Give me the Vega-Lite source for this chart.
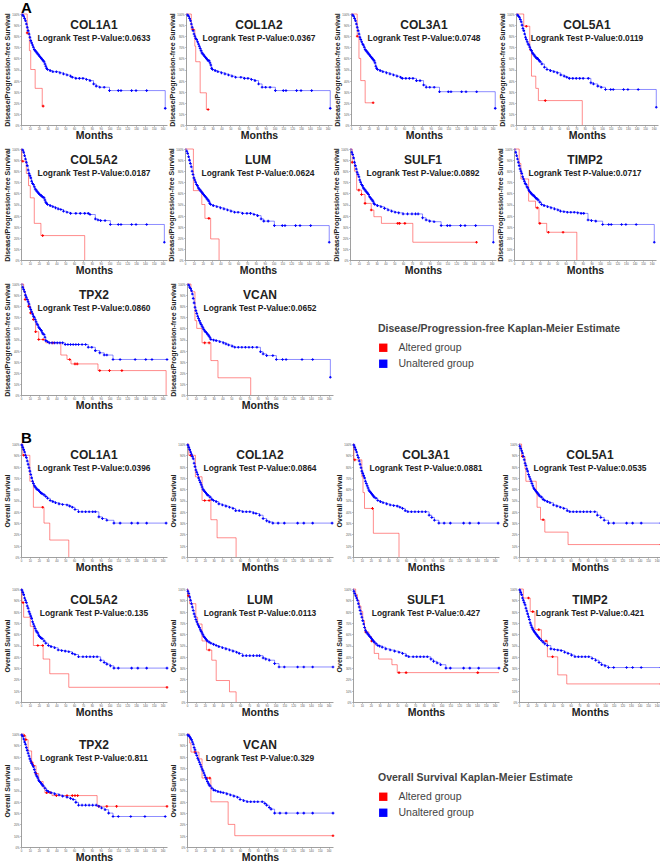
{
"$schema":"https://vega.github.io/schema/vega-lite/v6.json",
"padding":{"left":3,"top":1,"right":0,"bottom":0},
"config":{
"font":"Liberation Sans",
"view":{"stroke":null},
"axis":{"grid":false,"domainColor":"#888","tickColor":"#888","labelColor":"#555","labelFontSize":2.8,"tickSize":1.5,"labelPadding":0.5,"titleFontWeight":"bold","titleColor":"#222","domainWidth":0.8,"tickWidth":0.5,"labelFlush":false},
"axisX":{"titleFontSize":10.5,"titlePadding":0.5},
"axisY":{"titleFontSize":7,"titlePadding":1},
"title":{"fontSize":12,"fontWeight":"bold","subtitleFontSize":8.4,"subtitleFontWeight":"bold","color":"#222","subtitleColor":"#222","anchor":"middle","frame":"group","offset":-31,"subtitlePadding":2,"font":"Liberation Sans","subtitleFont":"Liberation Sans"}
},
"datasets":{
"a1":[
{"t":0,"s":1,"g":"A","c":0},{"t":7,"s":0.83,"g":"A","c":1},{"t":9.5,"s":0.67,"g":"A","c":0},{"t":11,"s":0.5,"g":"A","c":0},{"t":16,"s":0.33,"g":"A","c":0},{"t":24,"s":0.17,"g":"A","c":0},{"t":25,"s":0.17,"g":"A","c":1},
{"t":0,"s":1,"g":"U","c":0},{"t":2,"s":0.99,"g":"U","c":1},{"t":3,"s":0.98,"g":"U","c":1},{"t":4,"s":0.96,"g":"U","c":1},{"t":5,"s":0.94,"g":"U","c":1},{"t":6,"s":0.91,"g":"U","c":1},{"t":7,"s":0.88,"g":"U","c":1},{"t":8,"s":0.85,"g":"U","c":1},{"t":9,"s":0.82,"g":"U","c":1},{"t":10,"s":0.79,"g":"U","c":1},{"t":11,"s":0.76,"g":"U","c":1},{"t":12,"s":0.74,"g":"U","c":1},{"t":13,"s":0.72,"g":"U","c":1},{"t":14,"s":0.70,"g":"U","c":1},{"t":15,"s":0.68,"g":"U","c":1},{"t":16,"s":0.67,"g":"U","c":1},{"t":17,"s":0.66,"g":"U","c":1},{"t":18,"s":0.65,"g":"U","c":1},{"t":19,"s":0.64,"g":"U","c":1},{"t":20,"s":0.63,"g":"U","c":1},{"t":21,"s":0.62,"g":"U","c":1},{"t":22,"s":0.61,"g":"U","c":1},{"t":23,"s":0.60,"g":"U","c":1},{"t":24,"s":0.59,"g":"U","c":1},{"t":25,"s":0.58,"g":"U","c":1},{"t":26,"s":0.57,"g":"U","c":1},{"t":27,"s":0.55,"g":"U","c":1},{"t":28,"s":0.53,"g":"U","c":1},{"t":29,"s":0.51,"g":"U","c":1},{"t":30,"s":0.50,"g":"U","c":1},{"t":33,"s":0.49,"g":"U","c":1},{"t":36,"s":0.48,"g":"U","c":1},{"t":40,"s":0.48,"g":"U","c":1},{"t":44,"s":0.47,"g":"U","c":1},{"t":48,"s":0.46,"g":"U","c":1},{"t":52,"s":0.45,"g":"U","c":1},{"t":56,"s":0.44,"g":"U","c":1},{"t":58,"s":0.43,"g":"U","c":1},{"t":62,"s":0.42,"g":"U","c":1},{"t":66,"s":0.42,"g":"U","c":1},{"t":70,"s":0.42,"g":"U","c":1},{"t":74,"s":0.41,"g":"U","c":1},{"t":78,"s":0.40,"g":"U","c":1},{"t":82,"s":0.37,"g":"U","c":1},{"t":85,"s":0.35,"g":"U","c":1},{"t":89,"s":0.34,"g":"U","c":1},{"t":94,"s":0.34,"g":"U","c":1},{"t":100,"s":0.31,"g":"U","c":1},{"t":110,"s":0.31,"g":"U","c":1},{"t":113,"s":0.31,"g":"U","c":1},{"t":125,"s":0.31,"g":"U","c":1},{"t":130,"s":0.31,"g":"U","c":1},{"t":142,"s":0.31,"g":"U","c":1},{"t":163,"s":0.15,"g":"U","c":1}
],
"a2":[
{"t":0,"s":1,"g":"A","c":0},{"t":6,"s":0.86,"g":"A","c":0},{"t":8,"s":0.86,"g":"A","c":1},{"t":10,"s":0.71,"g":"A","c":0},{"t":11,"s":0.57,"g":"A","c":0},{"t":16,"s":0.29,"g":"A","c":0},{"t":23,"s":0.14,"g":"A","c":0},{"t":25,"s":0.14,"g":"A","c":1},
{"t":0,"s":1,"g":"U","c":0},{"t":2,"s":0.99,"g":"U","c":1},{"t":3,"s":0.98,"g":"U","c":1},{"t":4,"s":0.96,"g":"U","c":1},{"t":5,"s":0.94,"g":"U","c":1},{"t":6,"s":0.91,"g":"U","c":1},{"t":7,"s":0.88,"g":"U","c":1},{"t":8,"s":0.85,"g":"U","c":1},{"t":9,"s":0.82,"g":"U","c":1},{"t":10,"s":0.80,"g":"U","c":1},{"t":11,"s":0.78,"g":"U","c":1},{"t":12,"s":0.77,"g":"U","c":1},{"t":13,"s":0.75,"g":"U","c":1},{"t":14,"s":0.73,"g":"U","c":1},{"t":15,"s":0.71,"g":"U","c":1},{"t":16,"s":0.69,"g":"U","c":1},{"t":17,"s":0.67,"g":"U","c":1},{"t":18,"s":0.65,"g":"U","c":1},{"t":19,"s":0.64,"g":"U","c":1},{"t":20,"s":0.63,"g":"U","c":1},{"t":21,"s":0.62,"g":"U","c":1},{"t":22,"s":0.61,"g":"U","c":1},{"t":23,"s":0.60,"g":"U","c":1},{"t":24,"s":0.59,"g":"U","c":1},{"t":25,"s":0.58,"g":"U","c":1},{"t":26,"s":0.58,"g":"U","c":1},{"t":27,"s":0.56,"g":"U","c":1},{"t":28,"s":0.54,"g":"U","c":1},{"t":29,"s":0.51,"g":"U","c":1},{"t":30,"s":0.50,"g":"U","c":1},{"t":33,"s":0.49,"g":"U","c":1},{"t":36,"s":0.48,"g":"U","c":1},{"t":40,"s":0.47,"g":"U","c":1},{"t":44,"s":0.46,"g":"U","c":1},{"t":48,"s":0.45,"g":"U","c":1},{"t":52,"s":0.44,"g":"U","c":1},{"t":56,"s":0.43,"g":"U","c":1},{"t":62,"s":0.43,"g":"U","c":1},{"t":66,"s":0.42,"g":"U","c":1},{"t":70,"s":0.42,"g":"U","c":1},{"t":74,"s":0.41,"g":"U","c":1},{"t":78,"s":0.40,"g":"U","c":1},{"t":82,"s":0.37,"g":"U","c":1},{"t":86,"s":0.34,"g":"U","c":1},{"t":90,"s":0.34,"g":"U","c":1},{"t":95,"s":0.34,"g":"U","c":1},{"t":101,"s":0.31,"g":"U","c":1},{"t":110,"s":0.31,"g":"U","c":1},{"t":113,"s":0.31,"g":"U","c":1},{"t":125,"s":0.31,"g":"U","c":1},{"t":130,"s":0.31,"g":"U","c":1},{"t":142,"s":0.31,"g":"U","c":1},{"t":163,"s":0.15,"g":"U","c":1}
],
"a3":[
{"t":0,"s":1,"g":"A","c":0},{"t":7,"s":0.8,"g":"A","c":1},{"t":9,"s":0.6,"g":"A","c":0},{"t":11,"s":0.4,"g":"A","c":0},{"t":16,"s":0.2,"g":"A","c":0},{"t":25,"s":0.2,"g":"A","c":1},
{"t":0,"s":1,"g":"U","c":0},{"t":2,"s":0.99,"g":"U","c":1},{"t":3,"s":0.98,"g":"U","c":1},{"t":4,"s":0.96,"g":"U","c":1},{"t":5,"s":0.94,"g":"U","c":1},{"t":6,"s":0.91,"g":"U","c":1},{"t":7,"s":0.88,"g":"U","c":1},{"t":8,"s":0.85,"g":"U","c":1},{"t":9,"s":0.82,"g":"U","c":1},{"t":10,"s":0.79,"g":"U","c":1},{"t":11,"s":0.77,"g":"U","c":1},{"t":12,"s":0.75,"g":"U","c":1},{"t":13,"s":0.73,"g":"U","c":1},{"t":14,"s":0.72,"g":"U","c":1},{"t":15,"s":0.70,"g":"U","c":1},{"t":16,"s":0.68,"g":"U","c":1},{"t":17,"s":0.67,"g":"U","c":1},{"t":18,"s":0.66,"g":"U","c":1},{"t":19,"s":0.65,"g":"U","c":1},{"t":20,"s":0.64,"g":"U","c":1},{"t":21,"s":0.63,"g":"U","c":1},{"t":22,"s":0.62,"g":"U","c":1},{"t":23,"s":0.61,"g":"U","c":1},{"t":24,"s":0.60,"g":"U","c":1},{"t":25,"s":0.59,"g":"U","c":1},{"t":26,"s":0.58,"g":"U","c":1},{"t":27,"s":0.56,"g":"U","c":1},{"t":28,"s":0.53,"g":"U","c":1},{"t":29,"s":0.51,"g":"U","c":1},{"t":30,"s":0.50,"g":"U","c":1},{"t":33,"s":0.49,"g":"U","c":1},{"t":36,"s":0.48,"g":"U","c":1},{"t":40,"s":0.47,"g":"U","c":1},{"t":44,"s":0.46,"g":"U","c":1},{"t":48,"s":0.45,"g":"U","c":1},{"t":52,"s":0.44,"g":"U","c":1},{"t":56,"s":0.43,"g":"U","c":1},{"t":58,"s":0.42,"g":"U","c":1},{"t":62,"s":0.42,"g":"U","c":1},{"t":66,"s":0.42,"g":"U","c":1},{"t":70,"s":0.42,"g":"U","c":1},{"t":74,"s":0.40,"g":"U","c":1},{"t":78,"s":0.40,"g":"U","c":1},{"t":82,"s":0.36,"g":"U","c":1},{"t":85,"s":0.34,"g":"U","c":1},{"t":89,"s":0.34,"g":"U","c":1},{"t":94,"s":0.34,"g":"U","c":1},{"t":100,"s":0.30,"g":"U","c":1},{"t":110,"s":0.30,"g":"U","c":1},{"t":113,"s":0.30,"g":"U","c":1},{"t":125,"s":0.30,"g":"U","c":1},{"t":130,"s":0.30,"g":"U","c":1},{"t":142,"s":0.30,"g":"U","c":1},{"t":163,"s":0.15,"g":"U","c":1}
],
"a4":[
{"t":0,"s":1,"g":"A","c":0},{"t":9,"s":0.89,"g":"A","c":0},{"t":12,"s":0.89,"g":"A","c":1},{"t":16,"s":0.67,"g":"A","c":0},{"t":18,"s":0.44,"g":"A","c":0},{"t":23,"s":0.33,"g":"A","c":0},{"t":26,"s":0.22,"g":"A","c":0},{"t":34,"s":0.22,"g":"A","c":1},{"t":77,"s":0,"g":"A","c":0},
{"t":0,"s":1,"g":"U","c":0},{"t":2,"s":0.99,"g":"U","c":1},{"t":3,"s":0.98,"g":"U","c":1},{"t":4,"s":0.97,"g":"U","c":1},{"t":5,"s":0.95,"g":"U","c":1},{"t":6,"s":0.93,"g":"U","c":1},{"t":7,"s":0.90,"g":"U","c":1},{"t":8,"s":0.87,"g":"U","c":1},{"t":9,"s":0.85,"g":"U","c":1},{"t":10,"s":0.82,"g":"U","c":1},{"t":11,"s":0.79,"g":"U","c":1},{"t":12,"s":0.77,"g":"U","c":1},{"t":13,"s":0.75,"g":"U","c":1},{"t":14,"s":0.73,"g":"U","c":1},{"t":15,"s":0.72,"g":"U","c":1},{"t":16,"s":0.70,"g":"U","c":1},{"t":17,"s":0.68,"g":"U","c":1},{"t":18,"s":0.67,"g":"U","c":1},{"t":19,"s":0.65,"g":"U","c":1},{"t":20,"s":0.64,"g":"U","c":1},{"t":21,"s":0.63,"g":"U","c":1},{"t":22,"s":0.62,"g":"U","c":1},{"t":23,"s":0.61,"g":"U","c":1},{"t":24,"s":0.60,"g":"U","c":1},{"t":25,"s":0.60,"g":"U","c":1},{"t":26,"s":0.59,"g":"U","c":1},{"t":27,"s":0.58,"g":"U","c":1},{"t":28,"s":0.57,"g":"U","c":1},{"t":30,"s":0.55,"g":"U","c":1},{"t":33,"s":0.52,"g":"U","c":1},{"t":36,"s":0.50,"g":"U","c":1},{"t":40,"s":0.49,"g":"U","c":1},{"t":44,"s":0.48,"g":"U","c":1},{"t":48,"s":0.47,"g":"U","c":1},{"t":52,"s":0.45,"g":"U","c":1},{"t":56,"s":0.44,"g":"U","c":1},{"t":59,"s":0.43,"g":"U","c":1},{"t":62,"s":0.42,"g":"U","c":1},{"t":66,"s":0.42,"g":"U","c":1},{"t":70,"s":0.42,"g":"U","c":1},{"t":74,"s":0.42,"g":"U","c":1},{"t":78,"s":0.42,"g":"U","c":1},{"t":84,"s":0.42,"g":"U","c":1},{"t":87,"s":0.38,"g":"U","c":1},{"t":90,"s":0.37,"g":"U","c":1},{"t":95,"s":0.35,"g":"U","c":1},{"t":99,"s":0.34,"g":"U","c":1},{"t":104,"s":0.32,"g":"U","c":1},{"t":110,"s":0.32,"g":"U","c":1},{"t":113,"s":0.32,"g":"U","c":1},{"t":125,"s":0.32,"g":"U","c":1},{"t":130,"s":0.32,"g":"U","c":1},{"t":142,"s":0.32,"g":"U","c":1},{"t":163,"s":0.16,"g":"U","c":1}
],
"a5":[
{"t":0,"s":1,"g":"A","c":0},{"t":1,"s":0.89,"g":"A","c":0},{"t":2,"s":0.89,"g":"A","c":1},{"t":6,"s":0.78,"g":"A","c":0},{"t":8.5,"s":0.67,"g":"A","c":0},{"t":10.5,"s":0.56,"g":"A","c":0},{"t":15,"s":0.33,"g":"A","c":0},{"t":22.5,"s":0.22,"g":"A","c":0},{"t":24.5,"s":0.22,"g":"A","c":1},{"t":72,"s":0,"g":"A","c":0},
{"t":0,"s":1,"g":"U","c":0},{"t":2,"s":0.99,"g":"U","c":1},{"t":3,"s":0.97,"g":"U","c":1},{"t":4,"s":0.94,"g":"U","c":1},{"t":5,"s":0.91,"g":"U","c":1},{"t":6,"s":0.88,"g":"U","c":1},{"t":7,"s":0.85,"g":"U","c":1},{"t":8,"s":0.81,"g":"U","c":1},{"t":9,"s":0.78,"g":"U","c":1},{"t":10,"s":0.76,"g":"U","c":1},{"t":11,"s":0.74,"g":"U","c":1},{"t":12,"s":0.71,"g":"U","c":1},{"t":13,"s":0.69,"g":"U","c":1},{"t":14,"s":0.68,"g":"U","c":1},{"t":15,"s":0.66,"g":"U","c":1},{"t":16,"s":0.64,"g":"U","c":1},{"t":17,"s":0.63,"g":"U","c":1},{"t":18,"s":0.62,"g":"U","c":1},{"t":19,"s":0.61,"g":"U","c":1},{"t":20,"s":0.60,"g":"U","c":1},{"t":21,"s":0.59,"g":"U","c":1},{"t":22,"s":0.585,"g":"U","c":1},{"t":23,"s":0.58,"g":"U","c":1},{"t":24,"s":0.57,"g":"U","c":1},{"t":25,"s":0.565,"g":"U","c":1},{"t":26,"s":0.56,"g":"U","c":1},{"t":27,"s":0.54,"g":"U","c":1},{"t":28,"s":0.52,"g":"U","c":1},{"t":29,"s":0.51,"g":"U","c":1},{"t":30,"s":0.50,"g":"U","c":1},{"t":33,"s":0.49,"g":"U","c":1},{"t":36,"s":0.48,"g":"U","c":1},{"t":39,"s":0.47,"g":"U","c":1},{"t":42,"s":0.46,"g":"U","c":1},{"t":45,"s":0.455,"g":"U","c":1},{"t":48,"s":0.44,"g":"U","c":1},{"t":52,"s":0.43,"g":"U","c":1},{"t":56,"s":0.42,"g":"U","c":1},{"t":62,"s":0.42,"g":"U","c":1},{"t":67,"s":0.42,"g":"U","c":1},{"t":72,"s":0.42,"g":"U","c":1},{"t":76,"s":0.42,"g":"U","c":1},{"t":78,"s":0.41,"g":"U","c":1},{"t":84,"s":0.37,"g":"U","c":1},{"t":87,"s":0.36,"g":"U","c":1},{"t":90,"s":0.355,"g":"U","c":1},{"t":95,"s":0.355,"g":"U","c":1},{"t":101,"s":0.32,"g":"U","c":1},{"t":110,"s":0.32,"g":"U","c":1},{"t":113,"s":0.32,"g":"U","c":1},{"t":125,"s":0.32,"g":"U","c":1},{"t":130,"s":0.32,"g":"U","c":1},{"t":142,"s":0.32,"g":"U","c":1},{"t":162,"s":0.16,"g":"U","c":1}
],
"a6":[
{"t":0,"s":1,"g":"A","c":0},{"t":9.5,"s":0.625,"g":"A","c":0},{"t":19,"s":0.5,"g":"A","c":0},{"t":22.5,"s":0.375,"g":"A","c":0},{"t":27,"s":0.375,"g":"A","c":1},{"t":29,"s":0.19,"g":"A","c":0},{"t":38.5,"s":0,"g":"A","c":0},
{"t":0,"s":1,"g":"U","c":0},{"t":2,"s":0.98,"g":"U","c":1},{"t":3,"s":0.96,"g":"U","c":1},{"t":4,"s":0.93,"g":"U","c":1},{"t":5,"s":0.90,"g":"U","c":1},{"t":6,"s":0.87,"g":"U","c":1},{"t":7,"s":0.84,"g":"U","c":1},{"t":8,"s":0.80,"g":"U","c":1},{"t":9,"s":0.77,"g":"U","c":1},{"t":10,"s":0.74,"g":"U","c":1},{"t":11,"s":0.72,"g":"U","c":1},{"t":12,"s":0.70,"g":"U","c":1},{"t":13,"s":0.68,"g":"U","c":1},{"t":14,"s":0.67,"g":"U","c":1},{"t":15,"s":0.65,"g":"U","c":1},{"t":16,"s":0.64,"g":"U","c":1},{"t":17,"s":0.63,"g":"U","c":1},{"t":18,"s":0.62,"g":"U","c":1},{"t":19,"s":0.61,"g":"U","c":1},{"t":20,"s":0.60,"g":"U","c":1},{"t":21,"s":0.59,"g":"U","c":1},{"t":22,"s":0.58,"g":"U","c":1},{"t":23,"s":0.57,"g":"U","c":1},{"t":24,"s":0.56,"g":"U","c":1},{"t":25,"s":0.55,"g":"U","c":1},{"t":26,"s":0.54,"g":"U","c":1},{"t":27,"s":0.53,"g":"U","c":1},{"t":28,"s":0.51,"g":"U","c":1},{"t":29,"s":0.50,"g":"U","c":1},{"t":32,"s":0.49,"g":"U","c":1},{"t":36,"s":0.48,"g":"U","c":1},{"t":40,"s":0.47,"g":"U","c":1},{"t":44,"s":0.46,"g":"U","c":1},{"t":48,"s":0.45,"g":"U","c":1},{"t":52,"s":0.44,"g":"U","c":1},{"t":56,"s":0.43,"g":"U","c":1},{"t":60,"s":0.43,"g":"U","c":1},{"t":65,"s":0.42,"g":"U","c":1},{"t":70,"s":0.42,"g":"U","c":1},{"t":74,"s":0.42,"g":"U","c":1},{"t":78,"s":0.41,"g":"U","c":1},{"t":82,"s":0.40,"g":"U","c":1},{"t":86,"s":0.37,"g":"U","c":1},{"t":89,"s":0.35,"g":"U","c":1},{"t":94,"s":0.35,"g":"U","c":1},{"t":101,"s":0.31,"g":"U","c":1},{"t":110,"s":0.31,"g":"U","c":1},{"t":113,"s":0.31,"g":"U","c":1},{"t":125,"s":0.31,"g":"U","c":1},{"t":130,"s":0.31,"g":"U","c":1},{"t":142,"s":0.31,"g":"U","c":1},{"t":163,"s":0.16,"g":"U","c":1}
],
"a7":[
{"t":0,"s":1,"g":"A","c":0},{"t":2.5,"s":0.88,"g":"A","c":1},{"t":5,"s":0.80,"g":"A","c":0},{"t":7.5,"s":0.63,"g":"A","c":0},{"t":10,"s":0.63,"g":"A","c":1},{"t":13,"s":0.59,"g":"A","c":1},{"t":17,"s":0.51,"g":"A","c":1},{"t":24,"s":0.45,"g":"A","c":1},{"t":27,"s":0.39,"g":"A","c":0},{"t":35.5,"s":0.33,"g":"A","c":0},{"t":54,"s":0.33,"g":"A","c":1},{"t":56,"s":0.33,"g":"A","c":1},{"t":62,"s":0.33,"g":"A","c":1},{"t":71,"s":0.16,"g":"A","c":0},{"t":143,"s":0.16,"g":"A","c":1},
{"t":0,"s":1,"g":"U","c":0},{"t":2,"s":0.97,"g":"U","c":1},{"t":3,"s":0.95,"g":"U","c":1},{"t":4,"s":0.92,"g":"U","c":1},{"t":5,"s":0.88,"g":"U","c":1},{"t":6,"s":0.85,"g":"U","c":1},{"t":7,"s":0.82,"g":"U","c":1},{"t":8,"s":0.79,"g":"U","c":1},{"t":9,"s":0.77,"g":"U","c":1},{"t":10,"s":0.75,"g":"U","c":1},{"t":11,"s":0.72,"g":"U","c":1},{"t":12,"s":0.70,"g":"U","c":1},{"t":13,"s":0.68,"g":"U","c":1},{"t":14,"s":0.67,"g":"U","c":1},{"t":15,"s":0.65,"g":"U","c":1},{"t":16,"s":0.64,"g":"U","c":1},{"t":17,"s":0.63,"g":"U","c":1},{"t":18,"s":0.62,"g":"U","c":1},{"t":19,"s":0.61,"g":"U","c":1},{"t":20,"s":0.60,"g":"U","c":1},{"t":21,"s":0.59,"g":"U","c":1},{"t":22,"s":0.57,"g":"U","c":1},{"t":23,"s":0.56,"g":"U","c":1},{"t":24,"s":0.55,"g":"U","c":1},{"t":25,"s":0.54,"g":"U","c":1},{"t":26,"s":0.53,"g":"U","c":1},{"t":27,"s":0.51,"g":"U","c":1},{"t":28,"s":0.50,"g":"U","c":1},{"t":31,"s":0.49,"g":"U","c":1},{"t":35,"s":0.48,"g":"U","c":1},{"t":39,"s":0.465,"g":"U","c":1},{"t":43,"s":0.45,"g":"U","c":1},{"t":47,"s":0.44,"g":"U","c":1},{"t":51,"s":0.43,"g":"U","c":1},{"t":55,"s":0.425,"g":"U","c":1},{"t":60,"s":0.415,"g":"U","c":1},{"t":65,"s":0.415,"g":"U","c":1},{"t":70,"s":0.415,"g":"U","c":1},{"t":74,"s":0.415,"g":"U","c":1},{"t":77,"s":0.415,"g":"U","c":1},{"t":82,"s":0.38,"g":"U","c":1},{"t":86,"s":0.36,"g":"U","c":1},{"t":90,"s":0.35,"g":"U","c":1},{"t":95,"s":0.345,"g":"U","c":1},{"t":103,"s":0.31,"g":"U","c":1},{"t":110,"s":0.31,"g":"U","c":1},{"t":113,"s":0.31,"g":"U","c":1},{"t":125,"s":0.31,"g":"U","c":1},{"t":130,"s":0.31,"g":"U","c":1},{"t":142,"s":0.31,"g":"U","c":1},{"t":162,"s":0.16,"g":"U","c":1}
],
"a8":[
{"t":0,"s":1,"g":"A","c":0},{"t":6,"s":0.87,"g":"A","c":0},{"t":8,"s":0.73,"g":"A","c":0},{"t":17,"s":0.53,"g":"A","c":0},{"t":25,"s":0.47,"g":"A","c":0},{"t":27,"s":0.47,"g":"A","c":1},{"t":29,"s":0.33,"g":"A","c":0},{"t":30,"s":0.33,"g":"A","c":1},{"t":38,"s":0.25,"g":"A","c":0},{"t":40,"s":0.25,"g":"A","c":1},{"t":57,"s":0.25,"g":"A","c":1},{"t":73,"s":0,"g":"A","c":0},
{"t":0,"s":1,"g":"U","c":0},{"t":2,"s":0.97,"g":"U","c":1},{"t":3,"s":0.94,"g":"U","c":1},{"t":4,"s":0.91,"g":"U","c":1},{"t":5,"s":0.88,"g":"U","c":1},{"t":6,"s":0.85,"g":"U","c":1},{"t":7,"s":0.82,"g":"U","c":1},{"t":8,"s":0.80,"g":"U","c":1},{"t":9,"s":0.78,"g":"U","c":1},{"t":10,"s":0.75,"g":"U","c":1},{"t":11,"s":0.73,"g":"U","c":1},{"t":12,"s":0.71,"g":"U","c":1},{"t":13,"s":0.69,"g":"U","c":1},{"t":14,"s":0.68,"g":"U","c":1},{"t":15,"s":0.66,"g":"U","c":1},{"t":16,"s":0.65,"g":"U","c":1},{"t":17,"s":0.63,"g":"U","c":1},{"t":18,"s":0.62,"g":"U","c":1},{"t":19,"s":0.61,"g":"U","c":1},{"t":20,"s":0.60,"g":"U","c":1},{"t":21,"s":0.59,"g":"U","c":1},{"t":22,"s":0.585,"g":"U","c":1},{"t":23,"s":0.58,"g":"U","c":1},{"t":24,"s":0.57,"g":"U","c":1},{"t":25,"s":0.56,"g":"U","c":1},{"t":26,"s":0.555,"g":"U","c":1},{"t":27,"s":0.55,"g":"U","c":1},{"t":28,"s":0.54,"g":"U","c":1},{"t":30,"s":0.52,"g":"U","c":1},{"t":32,"s":0.50,"g":"U","c":1},{"t":35,"s":0.49,"g":"U","c":1},{"t":39,"s":0.48,"g":"U","c":1},{"t":43,"s":0.47,"g":"U","c":1},{"t":47,"s":0.46,"g":"U","c":1},{"t":51,"s":0.45,"g":"U","c":1},{"t":54,"s":0.44,"g":"U","c":1},{"t":58,"s":0.435,"g":"U","c":1},{"t":62,"s":0.43,"g":"U","c":1},{"t":66,"s":0.43,"g":"U","c":1},{"t":70,"s":0.43,"g":"U","c":1},{"t":74,"s":0.425,"g":"U","c":1},{"t":78,"s":0.42,"g":"U","c":1},{"t":81,"s":0.42,"g":"U","c":1},{"t":86,"s":0.36,"g":"U","c":1},{"t":90,"s":0.355,"g":"U","c":1},{"t":95,"s":0.35,"g":"U","c":1},{"t":103,"s":0.32,"g":"U","c":1},{"t":110,"s":0.32,"g":"U","c":1},{"t":113,"s":0.32,"g":"U","c":1},{"t":125,"s":0.32,"g":"U","c":1},{"t":130,"s":0.32,"g":"U","c":1},{"t":142,"s":0.32,"g":"U","c":1},{"t":163,"s":0.16,"g":"U","c":1}
],
"a9":[
{"t":0,"s":1,"g":"A","c":0},{"t":3,"s":0.93,"g":"A","c":0},{"t":4.7,"s":0.86,"g":"A","c":1},{"t":8.5,"s":0.80,"g":"A","c":1},{"t":10.8,"s":0.74,"g":"A","c":1},{"t":14,"s":0.68,"g":"A","c":1},{"t":16.5,"s":0.57,"g":"A","c":1},{"t":20,"s":0.50,"g":"A","c":1},{"t":25,"s":0.50,"g":"A","c":1},{"t":28,"s":0.47,"g":"A","c":0},{"t":36,"s":0.47,"g":"A","c":1},{"t":45,"s":0.36,"g":"A","c":0},{"t":52,"s":0.32,"g":"A","c":0},{"t":55,"s":0.32,"g":"A","c":1},{"t":56.5,"s":0.28,"g":"A","c":0},{"t":61,"s":0.28,"g":"A","c":1},{"t":63.5,"s":0.28,"g":"A","c":1},{"t":87,"s":0.22,"g":"A","c":0},{"t":89,"s":0.22,"g":"A","c":1},{"t":100,"s":0.22,"g":"A","c":1},{"t":114,"s":0.22,"g":"A","c":1},{"t":164,"s":0,"g":"A","c":0},
{"t":0,"s":1,"g":"U","c":0},{"t":2,"s":0.97,"g":"U","c":1},{"t":3,"s":0.95,"g":"U","c":1},{"t":4,"s":0.93,"g":"U","c":1},{"t":5,"s":0.90,"g":"U","c":1},{"t":6,"s":0.88,"g":"U","c":1},{"t":7,"s":0.86,"g":"U","c":1},{"t":8,"s":0.84,"g":"U","c":1},{"t":9,"s":0.82,"g":"U","c":1},{"t":10,"s":0.79,"g":"U","c":1},{"t":11,"s":0.77,"g":"U","c":1},{"t":12,"s":0.75,"g":"U","c":1},{"t":13,"s":0.73,"g":"U","c":1},{"t":14,"s":0.71,"g":"U","c":1},{"t":15,"s":0.70,"g":"U","c":1},{"t":16,"s":0.68,"g":"U","c":1},{"t":17,"s":0.66,"g":"U","c":1},{"t":18,"s":0.64,"g":"U","c":1},{"t":19,"s":0.63,"g":"U","c":1},{"t":20,"s":0.61,"g":"U","c":1},{"t":21,"s":0.60,"g":"U","c":1},{"t":22,"s":0.59,"g":"U","c":1},{"t":23,"s":0.58,"g":"U","c":1},{"t":24,"s":0.56,"g":"U","c":1},{"t":25,"s":0.55,"g":"U","c":1},{"t":26,"s":0.545,"g":"U","c":1},{"t":27,"s":0.52,"g":"U","c":1},{"t":28,"s":0.49,"g":"U","c":1},{"t":30,"s":0.48,"g":"U","c":1},{"t":32,"s":0.47,"g":"U","c":1},{"t":35,"s":0.47,"g":"U","c":1},{"t":38,"s":0.47,"g":"U","c":1},{"t":41,"s":0.47,"g":"U","c":1},{"t":44,"s":0.47,"g":"U","c":1},{"t":47,"s":0.47,"g":"U","c":1},{"t":50,"s":0.455,"g":"U","c":1},{"t":53,"s":0.455,"g":"U","c":1},{"t":56,"s":0.455,"g":"U","c":1},{"t":59,"s":0.455,"g":"U","c":1},{"t":62,"s":0.455,"g":"U","c":1},{"t":65,"s":0.455,"g":"U","c":1},{"t":69,"s":0.455,"g":"U","c":1},{"t":73,"s":0.455,"g":"U","c":1},{"t":76,"s":0.43,"g":"U","c":1},{"t":80,"s":0.43,"g":"U","c":1},{"t":84,"s":0.40,"g":"U","c":1},{"t":89,"s":0.38,"g":"U","c":1},{"t":94,"s":0.36,"g":"U","c":1},{"t":97,"s":0.36,"g":"U","c":1},{"t":104,"s":0.32,"g":"U","c":1},{"t":112,"s":0.32,"g":"U","c":1},{"t":129,"s":0.32,"g":"U","c":1},{"t":141,"s":0.32,"g":"U","c":1},{"t":148,"s":0.32,"g":"U","c":1},{"t":165,"s":0.32,"g":"U","c":1}
],
"a10":[
{"t":0,"s":1,"g":"A","c":0},{"t":4.5,"s":0.93,"g":"A","c":0},{"t":9,"s":0.67,"g":"A","c":0},{"t":11,"s":0.60,"g":"A","c":0},{"t":17,"s":0.47,"g":"A","c":0},{"t":20,"s":0.47,"g":"A","c":1},{"t":25,"s":0.47,"g":"A","c":1},{"t":27,"s":0.31,"g":"A","c":0},{"t":35,"s":0.155,"g":"A","c":0},{"t":72,"s":0,"g":"A","c":0},
{"t":0,"s":1,"g":"U","c":0},{"t":2,"s":0.99,"g":"U","c":1},{"t":3,"s":0.97,"g":"U","c":1},{"t":4,"s":0.96,"g":"U","c":1},{"t":5,"s":0.94,"g":"U","c":1},{"t":6,"s":0.91,"g":"U","c":1},{"t":7,"s":0.87,"g":"U","c":1},{"t":8,"s":0.83,"g":"U","c":1},{"t":9,"s":0.79,"g":"U","c":1},{"t":10,"s":0.76,"g":"U","c":1},{"t":11,"s":0.735,"g":"U","c":1},{"t":12,"s":0.71,"g":"U","c":1},{"t":13,"s":0.69,"g":"U","c":1},{"t":14,"s":0.67,"g":"U","c":1},{"t":15,"s":0.65,"g":"U","c":1},{"t":16,"s":0.635,"g":"U","c":1},{"t":17,"s":0.62,"g":"U","c":1},{"t":18,"s":0.605,"g":"U","c":1},{"t":19,"s":0.59,"g":"U","c":1},{"t":20,"s":0.576,"g":"U","c":1},{"t":21,"s":0.57,"g":"U","c":1},{"t":22,"s":0.56,"g":"U","c":1},{"t":23,"s":0.55,"g":"U","c":1},{"t":24,"s":0.54,"g":"U","c":1},{"t":25,"s":0.53,"g":"U","c":1},{"t":26,"s":0.515,"g":"U","c":1},{"t":27,"s":0.50,"g":"U","c":1},{"t":30,"s":0.495,"g":"U","c":1},{"t":33,"s":0.49,"g":"U","c":1},{"t":37,"s":0.48,"g":"U","c":1},{"t":41,"s":0.47,"g":"U","c":1},{"t":44,"s":0.46,"g":"U","c":1},{"t":47,"s":0.45,"g":"U","c":1},{"t":51,"s":0.44,"g":"U","c":1},{"t":54,"s":0.43,"g":"U","c":1},{"t":58,"s":0.43,"g":"U","c":1},{"t":62,"s":0.43,"g":"U","c":1},{"t":66,"s":0.43,"g":"U","c":1},{"t":70,"s":0.43,"g":"U","c":1},{"t":74,"s":0.43,"g":"U","c":1},{"t":79,"s":0.43,"g":"U","c":1},{"t":83,"s":0.39,"g":"U","c":1},{"t":86,"s":0.37,"g":"U","c":1},{"t":90,"s":0.355,"g":"U","c":1},{"t":97,"s":0.355,"g":"U","c":1},{"t":101,"s":0.32,"g":"U","c":1},{"t":108,"s":0.32,"g":"U","c":1},{"t":112,"s":0.32,"g":"U","c":1},{"t":130,"s":0.32,"g":"U","c":1},{"t":142,"s":0.32,"g":"U","c":1},{"t":162,"s":0.16,"g":"U","c":1}
],
"b1":[
{"t":0,"s":1,"g":"A","c":0},{"t":2,"s":0.9,"g":"A","c":0},{"t":3,"s":0.9,"g":"A","c":1},{"t":10,"s":0.67,"g":"A","c":0},{"t":14,"s":0.44,"g":"A","c":0},{"t":24.5,"s":0.44,"g":"A","c":1},{"t":26,"s":0.30,"g":"A","c":0},{"t":32.5,"s":0.15,"g":"A","c":0},{"t":54,"s":0,"g":"A","c":0},
{"t":0,"s":1,"g":"U","c":0},{"t":1,"s":0.99,"g":"U","c":1},{"t":2,"s":0.97,"g":"U","c":1},{"t":3,"s":0.95,"g":"U","c":1},{"t":4,"s":0.93,"g":"U","c":1},{"t":5,"s":0.90,"g":"U","c":1},{"t":6,"s":0.88,"g":"U","c":1},{"t":7,"s":0.85,"g":"U","c":1},{"t":8,"s":0.82,"g":"U","c":1},{"t":9,"s":0.79,"g":"U","c":1},{"t":10,"s":0.76,"g":"U","c":1},{"t":11,"s":0.73,"g":"U","c":1},{"t":12,"s":0.70,"g":"U","c":1},{"t":13,"s":0.67,"g":"U","c":1},{"t":14,"s":0.65,"g":"U","c":1},{"t":15,"s":0.63,"g":"U","c":1},{"t":16,"s":0.62,"g":"U","c":1},{"t":17,"s":0.61,"g":"U","c":1},{"t":18,"s":0.60,"g":"U","c":1},{"t":19,"s":0.595,"g":"U","c":1},{"t":20,"s":0.59,"g":"U","c":1},{"t":21,"s":0.58,"g":"U","c":1},{"t":22,"s":0.57,"g":"U","c":1},{"t":23,"s":0.565,"g":"U","c":1},{"t":24,"s":0.56,"g":"U","c":1},{"t":26,"s":0.55,"g":"U","c":1},{"t":28,"s":0.535,"g":"U","c":1},{"t":30,"s":0.52,"g":"U","c":1},{"t":33,"s":0.50,"g":"U","c":1},{"t":36,"s":0.49,"g":"U","c":1},{"t":39,"s":0.48,"g":"U","c":1},{"t":43,"s":0.47,"g":"U","c":1},{"t":47,"s":0.465,"g":"U","c":1},{"t":52,"s":0.46,"g":"U","c":1},{"t":55,"s":0.45,"g":"U","c":1},{"t":58,"s":0.44,"g":"U","c":1},{"t":61,"s":0.42,"g":"U","c":1},{"t":65,"s":0.40,"g":"U","c":1},{"t":69,"s":0.40,"g":"U","c":1},{"t":73,"s":0.40,"g":"U","c":1},{"t":77,"s":0.40,"g":"U","c":1},{"t":81,"s":0.40,"g":"U","c":1},{"t":84,"s":0.40,"g":"U","c":1},{"t":88,"s":0.355,"g":"U","c":1},{"t":92,"s":0.34,"g":"U","c":1},{"t":97,"s":0.325,"g":"U","c":1},{"t":105,"s":0.30,"g":"U","c":1},{"t":112,"s":0.30,"g":"U","c":1},{"t":125,"s":0.30,"g":"U","c":1},{"t":132,"s":0.30,"g":"U","c":1},{"t":142,"s":0.30,"g":"U","c":1},{"t":164,"s":0.30,"g":"U","c":1}
],
"b2":[
{"t":0,"s":1,"g":"A","c":0},{"t":2,"s":0.9,"g":"A","c":0},{"t":4,"s":0.9,"g":"A","c":1},{"t":9.5,"s":0.71,"g":"A","c":0},{"t":17,"s":0.50,"g":"A","c":0},{"t":20,"s":0.50,"g":"A","c":1},{"t":25,"s":0.50,"g":"A","c":1},{"t":27,"s":0.33,"g":"A","c":0},{"t":34,"s":0.17,"g":"A","c":0},{"t":55.5,"s":0,"g":"A","c":0},
{"t":0,"s":1,"g":"U","c":0},{"t":1,"s":0.99,"g":"U","c":1},{"t":2,"s":0.97,"g":"U","c":1},{"t":3,"s":0.95,"g":"U","c":1},{"t":4,"s":0.93,"g":"U","c":1},{"t":5,"s":0.91,"g":"U","c":1},{"t":6,"s":0.89,"g":"U","c":1},{"t":7,"s":0.87,"g":"U","c":1},{"t":8,"s":0.83,"g":"U","c":1},{"t":9,"s":0.80,"g":"U","c":1},{"t":10,"s":0.77,"g":"U","c":1},{"t":11,"s":0.75,"g":"U","c":1},{"t":12,"s":0.73,"g":"U","c":1},{"t":13,"s":0.70,"g":"U","c":1},{"t":14,"s":0.68,"g":"U","c":1},{"t":15,"s":0.66,"g":"U","c":1},{"t":16,"s":0.64,"g":"U","c":1},{"t":17,"s":0.62,"g":"U","c":1},{"t":18,"s":0.60,"g":"U","c":1},{"t":19,"s":0.59,"g":"U","c":1},{"t":20,"s":0.58,"g":"U","c":1},{"t":21,"s":0.57,"g":"U","c":1},{"t":22,"s":0.56,"g":"U","c":1},{"t":23,"s":0.55,"g":"U","c":1},{"t":24,"s":0.545,"g":"U","c":1},{"t":26,"s":0.53,"g":"U","c":1},{"t":28,"s":0.51,"g":"U","c":1},{"t":30,"s":0.50,"g":"U","c":1},{"t":33,"s":0.49,"g":"U","c":1},{"t":36,"s":0.47,"g":"U","c":1},{"t":40,"s":0.46,"g":"U","c":1},{"t":44,"s":0.45,"g":"U","c":1},{"t":48,"s":0.44,"g":"U","c":1},{"t":52,"s":0.43,"g":"U","c":1},{"t":55,"s":0.41,"g":"U","c":1},{"t":59,"s":0.41,"g":"U","c":1},{"t":63,"s":0.40,"g":"U","c":1},{"t":67,"s":0.40,"g":"U","c":1},{"t":71,"s":0.40,"g":"U","c":1},{"t":75,"s":0.39,"g":"U","c":1},{"t":78,"s":0.385,"g":"U","c":1},{"t":82,"s":0.37,"g":"U","c":1},{"t":86,"s":0.34,"g":"U","c":1},{"t":90,"s":0.32,"g":"U","c":1},{"t":93,"s":0.31,"g":"U","c":1},{"t":97,"s":0.30,"g":"U","c":1},{"t":103,"s":0.30,"g":"U","c":1},{"t":110,"s":0.30,"g":"U","c":1},{"t":125,"s":0.30,"g":"U","c":1},{"t":132,"s":0.30,"g":"U","c":1},{"t":142,"s":0.30,"g":"U","c":1},{"t":164,"s":0.30,"g":"U","c":1}
],
"b3":[
{"t":0,"s":1,"g":"A","c":0},{"t":1,"s":0.86,"g":"A","c":0},{"t":2,"s":0.86,"g":"A","c":1},{"t":10,"s":0.71,"g":"A","c":0},{"t":11.3,"s":0.57,"g":"A","c":0},{"t":13,"s":0.43,"g":"A","c":0},{"t":22,"s":0.43,"g":"A","c":1},{"t":23,"s":0.21,"g":"A","c":0},{"t":52,"s":0,"g":"A","c":0},
{"t":0,"s":1,"g":"U","c":0},{"t":1,"s":0.99,"g":"U","c":1},{"t":2,"s":0.97,"g":"U","c":1},{"t":3,"s":0.95,"g":"U","c":1},{"t":4,"s":0.93,"g":"U","c":1},{"t":5,"s":0.90,"g":"U","c":1},{"t":6,"s":0.88,"g":"U","c":1},{"t":7,"s":0.85,"g":"U","c":1},{"t":8,"s":0.82,"g":"U","c":1},{"t":9,"s":0.79,"g":"U","c":1},{"t":10,"s":0.76,"g":"U","c":1},{"t":11,"s":0.74,"g":"U","c":1},{"t":12,"s":0.72,"g":"U","c":1},{"t":13,"s":0.70,"g":"U","c":1},{"t":14,"s":0.67,"g":"U","c":1},{"t":15,"s":0.65,"g":"U","c":1},{"t":16,"s":0.63,"g":"U","c":1},{"t":17,"s":0.61,"g":"U","c":1},{"t":18,"s":0.59,"g":"U","c":1},{"t":19,"s":0.58,"g":"U","c":1},{"t":20,"s":0.57,"g":"U","c":1},{"t":21,"s":0.56,"g":"U","c":1},{"t":22,"s":0.55,"g":"U","c":1},{"t":23,"s":0.54,"g":"U","c":1},{"t":24,"s":0.53,"g":"U","c":1},{"t":26,"s":0.52,"g":"U","c":1},{"t":28,"s":0.50,"g":"U","c":1},{"t":31,"s":0.49,"g":"U","c":1},{"t":34,"s":0.48,"g":"U","c":1},{"t":38,"s":0.47,"g":"U","c":1},{"t":42,"s":0.46,"g":"U","c":1},{"t":46,"s":0.455,"g":"U","c":1},{"t":50,"s":0.45,"g":"U","c":1},{"t":53,"s":0.44,"g":"U","c":1},{"t":56,"s":0.43,"g":"U","c":1},{"t":59,"s":0.41,"g":"U","c":1},{"t":62,"s":0.40,"g":"U","c":1},{"t":66,"s":0.40,"g":"U","c":1},{"t":70,"s":0.40,"g":"U","c":1},{"t":74,"s":0.40,"g":"U","c":1},{"t":78,"s":0.40,"g":"U","c":1},{"t":82,"s":0.40,"g":"U","c":1},{"t":86,"s":0.37,"g":"U","c":1},{"t":89,"s":0.35,"g":"U","c":1},{"t":92,"s":0.325,"g":"U","c":1},{"t":97,"s":0.30,"g":"U","c":1},{"t":103,"s":0.30,"g":"U","c":1},{"t":110,"s":0.30,"g":"U","c":1},{"t":125,"s":0.30,"g":"U","c":1},{"t":132,"s":0.30,"g":"U","c":1},{"t":142,"s":0.30,"g":"U","c":1},{"t":164,"s":0.30,"g":"U","c":1}
],
"b4":[
{"t":0,"s":1,"g":"A","c":0},{"t":3,"s":0.89,"g":"A","c":0},{"t":4,"s":0.89,"g":"A","c":1},{"t":7,"s":0.78,"g":"A","c":0},{"t":8,"s":0.67,"g":"A","c":0},{"t":20,"s":0.56,"g":"A","c":0},{"t":21,"s":0.44,"g":"A","c":0},{"t":25,"s":0.33,"g":"A","c":0},{"t":28,"s":0.33,"g":"A","c":1},{"t":30,"s":0.22,"g":"A","c":0},{"t":57,"s":0.11,"g":"A","c":0},{"t":165,"s":0.11,"g":"A","c":1},
{"t":0,"s":1,"g":"U","c":0},{"t":1,"s":0.98,"g":"U","c":1},{"t":2,"s":0.96,"g":"U","c":1},{"t":3,"s":0.94,"g":"U","c":1},{"t":4,"s":0.92,"g":"U","c":1},{"t":5,"s":0.89,"g":"U","c":1},{"t":6,"s":0.86,"g":"U","c":1},{"t":7,"s":0.83,"g":"U","c":1},{"t":8,"s":0.81,"g":"U","c":1},{"t":9,"s":0.78,"g":"U","c":1},{"t":10,"s":0.76,"g":"U","c":1},{"t":11,"s":0.73,"g":"U","c":1},{"t":12,"s":0.71,"g":"U","c":1},{"t":13,"s":0.69,"g":"U","c":1},{"t":14,"s":0.67,"g":"U","c":1},{"t":15,"s":0.65,"g":"U","c":1},{"t":16,"s":0.63,"g":"U","c":1},{"t":17,"s":0.61,"g":"U","c":1},{"t":18,"s":0.60,"g":"U","c":1},{"t":19,"s":0.59,"g":"U","c":1},{"t":20,"s":0.58,"g":"U","c":1},{"t":21,"s":0.57,"g":"U","c":1},{"t":22,"s":0.56,"g":"U","c":1},{"t":23,"s":0.55,"g":"U","c":1},{"t":24,"s":0.54,"g":"U","c":1},{"t":26,"s":0.53,"g":"U","c":1},{"t":28,"s":0.51,"g":"U","c":1},{"t":30,"s":0.50,"g":"U","c":1},{"t":33,"s":0.49,"g":"U","c":1},{"t":36,"s":0.48,"g":"U","c":1},{"t":40,"s":0.46,"g":"U","c":1},{"t":44,"s":0.45,"g":"U","c":1},{"t":48,"s":0.44,"g":"U","c":1},{"t":52,"s":0.43,"g":"U","c":1},{"t":56,"s":0.41,"g":"U","c":1},{"t":59,"s":0.40,"g":"U","c":1},{"t":63,"s":0.40,"g":"U","c":1},{"t":67,"s":0.40,"g":"U","c":1},{"t":71,"s":0.40,"g":"U","c":1},{"t":75,"s":0.40,"g":"U","c":1},{"t":79,"s":0.40,"g":"U","c":1},{"t":83,"s":0.40,"g":"U","c":1},{"t":88,"s":0.40,"g":"U","c":1},{"t":91,"s":0.37,"g":"U","c":1},{"t":95,"s":0.35,"g":"U","c":1},{"t":99,"s":0.325,"g":"U","c":1},{"t":104,"s":0.30,"g":"U","c":1},{"t":110,"s":0.30,"g":"U","c":1},{"t":125,"s":0.30,"g":"U","c":1},{"t":132,"s":0.30,"g":"U","c":1},{"t":142,"s":0.30,"g":"U","c":1},{"t":165,"s":0.30,"g":"U","c":1}
],
"b5":[
{"t":0,"s":1,"g":"A","c":0},{"t":1,"s":0.88,"g":"A","c":0},{"t":2.3,"s":0.88,"g":"A","c":1},{"t":3,"s":0.75,"g":"A","c":0},{"t":10.5,"s":0.67,"g":"A","c":0},{"t":14,"s":0.50,"g":"A","c":0},{"t":19,"s":0.50,"g":"A","c":1},{"t":24.5,"s":0.50,"g":"A","c":1},{"t":25,"s":0.38,"g":"A","c":0},{"t":32.5,"s":0.25,"g":"A","c":0},{"t":54,"s":0.13,"g":"A","c":0},{"t":165,"s":0.13,"g":"A","c":1},
{"t":0,"s":1,"g":"U","c":0},{"t":1,"s":0.99,"g":"U","c":1},{"t":2,"s":0.97,"g":"U","c":1},{"t":3,"s":0.95,"g":"U","c":1},{"t":4,"s":0.92,"g":"U","c":1},{"t":5,"s":0.90,"g":"U","c":1},{"t":6,"s":0.88,"g":"U","c":1},{"t":7,"s":0.85,"g":"U","c":1},{"t":8,"s":0.83,"g":"U","c":1},{"t":9,"s":0.80,"g":"U","c":1},{"t":10,"s":0.78,"g":"U","c":1},{"t":11,"s":0.76,"g":"U","c":1},{"t":12,"s":0.74,"g":"U","c":1},{"t":13,"s":0.71,"g":"U","c":1},{"t":14,"s":0.69,"g":"U","c":1},{"t":15,"s":0.67,"g":"U","c":1},{"t":16,"s":0.65,"g":"U","c":1},{"t":17,"s":0.63,"g":"U","c":1},{"t":18,"s":0.62,"g":"U","c":1},{"t":19,"s":0.61,"g":"U","c":1},{"t":20,"s":0.59,"g":"U","c":1},{"t":21,"s":0.58,"g":"U","c":1},{"t":22,"s":0.57,"g":"U","c":1},{"t":23,"s":0.565,"g":"U","c":1},{"t":24,"s":0.56,"g":"U","c":1},{"t":26,"s":0.54,"g":"U","c":1},{"t":28,"s":0.52,"g":"U","c":1},{"t":31,"s":0.50,"g":"U","c":1},{"t":34,"s":0.49,"g":"U","c":1},{"t":38,"s":0.48,"g":"U","c":1},{"t":42,"s":0.46,"g":"U","c":1},{"t":46,"s":0.455,"g":"U","c":1},{"t":50,"s":0.45,"g":"U","c":1},{"t":54,"s":0.445,"g":"U","c":1},{"t":58,"s":0.43,"g":"U","c":1},{"t":61,"s":0.42,"g":"U","c":1},{"t":65,"s":0.40,"g":"U","c":1},{"t":70,"s":0.40,"g":"U","c":1},{"t":74,"s":0.40,"g":"U","c":1},{"t":78,"s":0.40,"g":"U","c":1},{"t":82,"s":0.40,"g":"U","c":1},{"t":86,"s":0.40,"g":"U","c":1},{"t":90,"s":0.37,"g":"U","c":1},{"t":94,"s":0.35,"g":"U","c":1},{"t":97,"s":0.335,"g":"U","c":1},{"t":101,"s":0.32,"g":"U","c":1},{"t":105,"s":0.30,"g":"U","c":1},{"t":110,"s":0.30,"g":"U","c":1},{"t":125,"s":0.30,"g":"U","c":1},{"t":132,"s":0.30,"g":"U","c":1},{"t":142,"s":0.30,"g":"U","c":1},{"t":165,"s":0.30,"g":"U","c":1}
],
"b6":[
{"t":0,"s":1,"g":"A","c":0},{"t":1,"s":0.94,"g":"A","c":0},{"t":1.5,"s":0.94,"g":"A","c":1},{"t":3,"s":0.87,"g":"A","c":0},{"t":10,"s":0.75,"g":"A","c":0},{"t":12,"s":0.69,"g":"A","c":0},{"t":17,"s":0.54,"g":"A","c":0},{"t":22,"s":0.46,"g":"A","c":0},{"t":25,"s":0.46,"g":"A","c":1},{"t":28,"s":0.37,"g":"A","c":0},{"t":33,"s":0.19,"g":"A","c":0},{"t":48,"s":0.09,"g":"A","c":0},{"t":55.5,"s":0,"g":"A","c":0},
{"t":0,"s":1,"g":"U","c":0},{"t":1,"s":0.98,"g":"U","c":1},{"t":2,"s":0.96,"g":"U","c":1},{"t":3,"s":0.93,"g":"U","c":1},{"t":4,"s":0.90,"g":"U","c":1},{"t":5,"s":0.87,"g":"U","c":1},{"t":6,"s":0.84,"g":"U","c":1},{"t":7,"s":0.81,"g":"U","c":1},{"t":8,"s":0.78,"g":"U","c":1},{"t":9,"s":0.755,"g":"U","c":1},{"t":10,"s":0.73,"g":"U","c":1},{"t":11,"s":0.71,"g":"U","c":1},{"t":12,"s":0.69,"g":"U","c":1},{"t":13,"s":0.675,"g":"U","c":1},{"t":14,"s":0.66,"g":"U","c":1},{"t":15,"s":0.64,"g":"U","c":1},{"t":16,"s":0.625,"g":"U","c":1},{"t":17,"s":0.61,"g":"U","c":1},{"t":18,"s":0.595,"g":"U","c":1},{"t":19,"s":0.58,"g":"U","c":1},{"t":20,"s":0.57,"g":"U","c":1},{"t":21,"s":0.56,"g":"U","c":1},{"t":22,"s":0.55,"g":"U","c":1},{"t":23,"s":0.54,"g":"U","c":1},{"t":25,"s":0.53,"g":"U","c":1},{"t":27,"s":0.52,"g":"U","c":1},{"t":30,"s":0.51,"g":"U","c":1},{"t":33,"s":0.50,"g":"U","c":1},{"t":36,"s":0.49,"g":"U","c":1},{"t":40,"s":0.48,"g":"U","c":1},{"t":44,"s":0.47,"g":"U","c":1},{"t":48,"s":0.46,"g":"U","c":1},{"t":52,"s":0.45,"g":"U","c":1},{"t":56,"s":0.44,"g":"U","c":1},{"t":59,"s":0.43,"g":"U","c":1},{"t":63,"s":0.41,"g":"U","c":1},{"t":67,"s":0.41,"g":"U","c":1},{"t":71,"s":0.41,"g":"U","c":1},{"t":75,"s":0.41,"g":"U","c":1},{"t":79,"s":0.41,"g":"U","c":1},{"t":82,"s":0.41,"g":"U","c":1},{"t":86,"s":0.39,"g":"U","c":1},{"t":89,"s":0.38,"g":"U","c":1},{"t":93,"s":0.37,"g":"U","c":1},{"t":99,"s":0.34,"g":"U","c":1},{"t":104,"s":0.31,"g":"U","c":1},{"t":110,"s":0.31,"g":"U","c":1},{"t":125,"s":0.31,"g":"U","c":1},{"t":132,"s":0.31,"g":"U","c":1},{"t":142,"s":0.31,"g":"U","c":1},{"t":165,"s":0.31,"g":"U","c":1}
],
"b7":[
{"t":0,"s":1,"g":"A","c":0},{"t":3,"s":0.95,"g":"A","c":0},{"t":5,"s":0.90,"g":"A","c":0},{"t":7,"s":0.85,"g":"A","c":0},{"t":9,"s":0.80,"g":"A","c":0},{"t":11,"s":0.72,"g":"A","c":0},{"t":13,"s":0.66,"g":"A","c":0},{"t":14.3,"s":0.62,"g":"A","c":1},{"t":18,"s":0.58,"g":"A","c":0},{"t":21,"s":0.54,"g":"A","c":1},{"t":24,"s":0.43,"g":"A","c":0},{"t":29,"s":0.38,"g":"A","c":0},{"t":44,"s":0.33,"g":"A","c":0},{"t":50,"s":0.26,"g":"A","c":0},{"t":52,"s":0.26,"g":"A","c":1},{"t":60,"s":0.26,"g":"A","c":1},{"t":141,"s":0.26,"g":"A","c":1},{"t":165,"s":0.26,"g":"A","c":0},
{"t":0,"s":1,"g":"U","c":0},{"t":1,"s":0.98,"g":"U","c":1},{"t":2,"s":0.96,"g":"U","c":1},{"t":3,"s":0.94,"g":"U","c":1},{"t":4,"s":0.92,"g":"U","c":1},{"t":5,"s":0.90,"g":"U","c":1},{"t":6,"s":0.87,"g":"U","c":1},{"t":7,"s":0.84,"g":"U","c":1},{"t":8,"s":0.81,"g":"U","c":1},{"t":9,"s":0.78,"g":"U","c":1},{"t":10,"s":0.75,"g":"U","c":1},{"t":11,"s":0.72,"g":"U","c":1},{"t":12,"s":0.69,"g":"U","c":1},{"t":13,"s":0.66,"g":"U","c":1},{"t":14,"s":0.635,"g":"U","c":1},{"t":15,"s":0.62,"g":"U","c":1},{"t":16,"s":0.61,"g":"U","c":1},{"t":17,"s":0.60,"g":"U","c":1},{"t":18,"s":0.59,"g":"U","c":1},{"t":19,"s":0.58,"g":"U","c":1},{"t":20,"s":0.57,"g":"U","c":1},{"t":21,"s":0.56,"g":"U","c":1},{"t":22,"s":0.55,"g":"U","c":1},{"t":23,"s":0.54,"g":"U","c":1},{"t":24,"s":0.53,"g":"U","c":1},{"t":26,"s":0.515,"g":"U","c":1},{"t":28,"s":0.50,"g":"U","c":1},{"t":30,"s":0.495,"g":"U","c":1},{"t":33,"s":0.485,"g":"U","c":1},{"t":37,"s":0.47,"g":"U","c":1},{"t":42,"s":0.46,"g":"U","c":1},{"t":47,"s":0.45,"g":"U","c":1},{"t":52,"s":0.44,"g":"U","c":1},{"t":56,"s":0.43,"g":"U","c":1},{"t":60,"s":0.41,"g":"U","c":1},{"t":63,"s":0.40,"g":"U","c":1},{"t":68,"s":0.40,"g":"U","c":1},{"t":72,"s":0.40,"g":"U","c":1},{"t":76,"s":0.40,"g":"U","c":1},{"t":80,"s":0.40,"g":"U","c":1},{"t":84,"s":0.40,"g":"U","c":1},{"t":88,"s":0.38,"g":"U","c":1},{"t":91,"s":0.36,"g":"U","c":1},{"t":95,"s":0.345,"g":"U","c":1},{"t":99,"s":0.33,"g":"U","c":1},{"t":105,"s":0.30,"g":"U","c":1},{"t":110,"s":0.30,"g":"U","c":1},{"t":125,"s":0.30,"g":"U","c":1},{"t":132,"s":0.30,"g":"U","c":1},{"t":142,"s":0.30,"g":"U","c":1},{"t":165,"s":0.30,"g":"U","c":1}
],
"b8":[
{"t":0,"s":1,"g":"A","c":0},{"t":5,"s":0.92,"g":"A","c":0},{"t":11,"s":0.92,"g":"A","c":1},{"t":13,"s":0.80,"g":"A","c":0},{"t":16,"s":0.80,"g":"A","c":1},{"t":18.5,"s":0.64,"g":"A","c":0},{"t":23,"s":0.64,"g":"A","c":1},{"t":26,"s":0.54,"g":"A","c":0},{"t":31.5,"s":0.54,"g":"A","c":1},{"t":33,"s":0.40,"g":"A","c":0},{"t":39,"s":0.40,"g":"A","c":1},{"t":45,"s":0.24,"g":"A","c":0},{"t":55.5,"s":0.16,"g":"A","c":0},{"t":165,"s":0.16,"g":"A","c":1},
{"t":0,"s":1,"g":"U","c":0},{"t":1,"s":0.99,"g":"U","c":1},{"t":2,"s":0.97,"g":"U","c":1},{"t":3,"s":0.95,"g":"U","c":1},{"t":4,"s":0.92,"g":"U","c":1},{"t":5,"s":0.90,"g":"U","c":1},{"t":6,"s":0.88,"g":"U","c":1},{"t":7,"s":0.86,"g":"U","c":1},{"t":8,"s":0.83,"g":"U","c":1},{"t":9,"s":0.805,"g":"U","c":1},{"t":10,"s":0.78,"g":"U","c":1},{"t":11,"s":0.755,"g":"U","c":1},{"t":12,"s":0.73,"g":"U","c":1},{"t":13,"s":0.70,"g":"U","c":1},{"t":14,"s":0.68,"g":"U","c":1},{"t":15,"s":0.66,"g":"U","c":1},{"t":16,"s":0.645,"g":"U","c":1},{"t":17,"s":0.63,"g":"U","c":1},{"t":18,"s":0.62,"g":"U","c":1},{"t":19,"s":0.61,"g":"U","c":1},{"t":20,"s":0.60,"g":"U","c":1},{"t":21,"s":0.59,"g":"U","c":1},{"t":22,"s":0.58,"g":"U","c":1},{"t":23,"s":0.57,"g":"U","c":1},{"t":24,"s":0.56,"g":"U","c":1},{"t":26,"s":0.545,"g":"U","c":1},{"t":28,"s":0.53,"g":"U","c":1},{"t":30,"s":0.515,"g":"U","c":1},{"t":33,"s":0.50,"g":"U","c":1},{"t":37,"s":0.47,"g":"U","c":1},{"t":41,"s":0.465,"g":"U","c":1},{"t":45,"s":0.46,"g":"U","c":1},{"t":49,"s":0.455,"g":"U","c":1},{"t":53,"s":0.44,"g":"U","c":1},{"t":57,"s":0.43,"g":"U","c":1},{"t":61,"s":0.415,"g":"U","c":1},{"t":65,"s":0.40,"g":"U","c":1},{"t":69,"s":0.40,"g":"U","c":1},{"t":73,"s":0.40,"g":"U","c":1},{"t":77,"s":0.40,"g":"U","c":1},{"t":81,"s":0.40,"g":"U","c":1},{"t":85,"s":0.385,"g":"U","c":1},{"t":89,"s":0.37,"g":"U","c":1},{"t":93,"s":0.35,"g":"U","c":1},{"t":96,"s":0.33,"g":"U","c":1},{"t":100,"s":0.32,"g":"U","c":1},{"t":104,"s":0.305,"g":"U","c":1},{"t":110,"s":0.305,"g":"U","c":1},{"t":125,"s":0.305,"g":"U","c":1},{"t":132,"s":0.305,"g":"U","c":1},{"t":142,"s":0.305,"g":"U","c":1},{"t":165,"s":0.305,"g":"U","c":1}
],
"b9":[
{"t":0,"s":1,"g":"A","c":0},{"t":3.6,"s":0.985,"g":"A","c":1},{"t":5.4,"s":0.95,"g":"A","c":1},{"t":8,"s":0.85,"g":"A","c":0},{"t":12,"s":0.75,"g":"A","c":1},{"t":14,"s":0.72,"g":"A","c":1},{"t":17,"s":0.65,"g":"A","c":1},{"t":20,"s":0.58,"g":"A","c":0},{"t":25,"s":0.53,"g":"A","c":0},{"t":27,"s":0.48,"g":"A","c":0},{"t":29,"s":0.48,"g":"A","c":1},{"t":33,"s":0.48,"g":"A","c":1},{"t":35,"s":0.455,"g":"A","c":0},{"t":40,"s":0.455,"g":"A","c":1},{"t":52,"s":0.455,"g":"A","c":1},{"t":58,"s":0.455,"g":"A","c":1},{"t":61,"s":0.455,"g":"A","c":1},{"t":64,"s":0.455,"g":"A","c":1},{"t":86,"s":0.36,"g":"A","c":0},{"t":88,"s":0.36,"g":"A","c":1},{"t":97,"s":0.36,"g":"A","c":1},{"t":108,"s":0.36,"g":"A","c":1},{"t":165,"s":0.36,"g":"A","c":1},
{"t":0,"s":1,"g":"U","c":0},{"t":1,"s":0.99,"g":"U","c":1},{"t":2,"s":0.98,"g":"U","c":1},{"t":3,"s":0.955,"g":"U","c":1},{"t":4,"s":0.93,"g":"U","c":1},{"t":5,"s":0.91,"g":"U","c":1},{"t":6,"s":0.88,"g":"U","c":1},{"t":7,"s":0.855,"g":"U","c":1},{"t":8,"s":0.83,"g":"U","c":1},{"t":9,"s":0.805,"g":"U","c":1},{"t":10,"s":0.78,"g":"U","c":1},{"t":11,"s":0.76,"g":"U","c":1},{"t":12,"s":0.74,"g":"U","c":1},{"t":13,"s":0.725,"g":"U","c":1},{"t":14,"s":0.71,"g":"U","c":1},{"t":15,"s":0.685,"g":"U","c":1},{"t":16,"s":0.66,"g":"U","c":1},{"t":17,"s":0.64,"g":"U","c":1},{"t":18,"s":0.625,"g":"U","c":1},{"t":19,"s":0.61,"g":"U","c":1},{"t":20,"s":0.59,"g":"U","c":1},{"t":21,"s":0.58,"g":"U","c":1},{"t":22,"s":0.57,"g":"U","c":1},{"t":23,"s":0.56,"g":"U","c":1},{"t":24,"s":0.55,"g":"U","c":1},{"t":25,"s":0.54,"g":"U","c":1},{"t":27,"s":0.52,"g":"U","c":1},{"t":29,"s":0.50,"g":"U","c":1},{"t":31,"s":0.49,"g":"U","c":1},{"t":34,"s":0.48,"g":"U","c":1},{"t":38,"s":0.47,"g":"U","c":1},{"t":43,"s":0.46,"g":"U","c":1},{"t":47,"s":0.45,"g":"U","c":1},{"t":52,"s":0.44,"g":"U","c":1},{"t":56,"s":0.43,"g":"U","c":1},{"t":59,"s":0.42,"g":"U","c":1},{"t":62,"s":0.395,"g":"U","c":1},{"t":65,"s":0.37,"g":"U","c":1},{"t":69,"s":0.37,"g":"U","c":1},{"t":73,"s":0.37,"g":"U","c":1},{"t":77,"s":0.37,"g":"U","c":1},{"t":81,"s":0.37,"g":"U","c":1},{"t":85,"s":0.37,"g":"U","c":1},{"t":88,"s":0.36,"g":"U","c":1},{"t":91,"s":0.345,"g":"U","c":1},{"t":95,"s":0.33,"g":"U","c":1},{"t":99,"s":0.30,"g":"U","c":1},{"t":104,"s":0.27,"g":"U","c":1},{"t":110,"s":0.27,"g":"U","c":1},{"t":124,"s":0.27,"g":"U","c":1},{"t":140,"s":0.27,"g":"U","c":1},{"t":163,"s":0.27,"g":"U","c":1}
],
"b10":[
{"t":0,"s":1,"g":"A","c":0},{"t":3,"s":0.92,"g":"A","c":0},{"t":4.5,"s":0.84,"g":"A","c":0},{"t":9,"s":0.84,"g":"A","c":1},{"t":13.5,"s":0.78,"g":"A","c":0},{"t":17,"s":0.61,"g":"A","c":0},{"t":22.5,"s":0.61,"g":"A","c":1},{"t":25.7,"s":0.61,"g":"A","c":1},{"t":27,"s":0.40,"g":"A","c":0},{"t":46.5,"s":0.20,"g":"A","c":0},{"t":54,"s":0.10,"g":"A","c":0},{"t":165,"s":0.10,"g":"A","c":1},
{"t":0,"s":1,"g":"U","c":0},{"t":1,"s":0.99,"g":"U","c":1},{"t":2,"s":0.985,"g":"U","c":1},{"t":3,"s":0.975,"g":"U","c":1},{"t":4,"s":0.965,"g":"U","c":1},{"t":5,"s":0.95,"g":"U","c":1},{"t":6,"s":0.93,"g":"U","c":1},{"t":7,"s":0.91,"g":"U","c":1},{"t":8,"s":0.88,"g":"U","c":1},{"t":9,"s":0.86,"g":"U","c":1},{"t":10,"s":0.83,"g":"U","c":1},{"t":11,"s":0.81,"g":"U","c":1},{"t":12,"s":0.785,"g":"U","c":1},{"t":13,"s":0.77,"g":"U","c":1},{"t":14,"s":0.75,"g":"U","c":1},{"t":15,"s":0.73,"g":"U","c":1},{"t":16,"s":0.71,"g":"U","c":1},{"t":17,"s":0.69,"g":"U","c":1},{"t":18,"s":0.675,"g":"U","c":1},{"t":19,"s":0.655,"g":"U","c":1},{"t":20,"s":0.635,"g":"U","c":1},{"t":21,"s":0.615,"g":"U","c":1},{"t":22,"s":0.60,"g":"U","c":1},{"t":23,"s":0.58,"g":"U","c":1},{"t":24,"s":0.565,"g":"U","c":1},{"t":25,"s":0.55,"g":"U","c":1},{"t":26,"s":0.54,"g":"U","c":1},{"t":28,"s":0.52,"g":"U","c":1},{"t":30,"s":0.505,"g":"U","c":1},{"t":32,"s":0.50,"g":"U","c":1},{"t":35,"s":0.49,"g":"U","c":1},{"t":38,"s":0.485,"g":"U","c":1},{"t":41,"s":0.48,"g":"U","c":1},{"t":45,"s":0.47,"g":"U","c":1},{"t":49,"s":0.46,"g":"U","c":1},{"t":53,"s":0.45,"g":"U","c":1},{"t":57,"s":0.44,"g":"U","c":1},{"t":60,"s":0.42,"g":"U","c":1},{"t":64,"s":0.41,"g":"U","c":1},{"t":68,"s":0.40,"g":"U","c":1},{"t":72,"s":0.40,"g":"U","c":1},{"t":76,"s":0.40,"g":"U","c":1},{"t":80,"s":0.40,"g":"U","c":1},{"t":85,"s":0.40,"g":"U","c":1},{"t":88,"s":0.385,"g":"U","c":1},{"t":90,"s":0.37,"g":"U","c":1},{"t":93,"s":0.35,"g":"U","c":1},{"t":95,"s":0.335,"g":"U","c":1},{"t":99,"s":0.30,"g":"U","c":1},{"t":105,"s":0.30,"g":"U","c":1},{"t":112,"s":0.30,"g":"U","c":1},{"t":125,"s":0.30,"g":"U","c":1},{"t":132,"s":0.30,"g":"U","c":1},{"t":142,"s":0.30,"g":"U","c":1},{"t":165,"s":0.30,"g":"U","c":1}
]
},
"resolve":{"scale":{"color":"independent"}},
"spacing":20,
"vconcat":[
{"title":{"text":"A","anchor":"start","fontSize":15,"offset":-4,"color":"#000"},
"resolve":{"scale":{"color":"independent"}},
"spacing":6,
"vconcat":[
{"resolve":{"scale":{"color":"independent"}},"spacing":0,"hconcat":[
{"width":146,"height":111,"data":{"name":"a1"},"title":{"text":"COL1A1","subtitle":"Logrank Test P-Value:0.0633"},
"encoding":{"x":{"field":"t","type":"quantitative","scale":{"domain":[0,165],"nice":false},"axis":{"values":[0,10,20,30,40,50,60,70,80,90,100,110,120,130,140,150,160],"title":"Months"}},"y":{"field":"s","type":"quantitative","scale":{"domain":[0,1],"nice":false},"axis":{"values":[0,0.1,0.2,0.3,0.4,0.5,0.6,0.7,0.8,0.9,1],"format":".0%","title":"Disease/Progression-free Survival"}},"color":{"field":"g","type":"nominal","scale":{"domain":["A","U"],"range":["#ff0000","#0000ff"]},"legend":null}},
"layer":[{"mark":{"type":"line","interpolate":"step-after","strokeWidth":1,"strokeOpacity":0.45},"encoding":{}},{"transform":[{"filter":"datum.c == 1"}],"mark":{"type":"point","shape":"cross","filled":true,"size":7,"opacity":1}}]},
{"width":146,"height":111,"data":{"name":"a2"},"title":{"text":"COL1A2","subtitle":"Logrank Test P-Value:0.0367"},
"encoding":{"x":{"field":"t","type":"quantitative","scale":{"domain":[0,165],"nice":false},"axis":{"values":[0,10,20,30,40,50,60,70,80,90,100,110,120,130,140,150,160],"title":"Months"}},"y":{"field":"s","type":"quantitative","scale":{"domain":[0,1],"nice":false},"axis":{"values":[0,0.1,0.2,0.3,0.4,0.5,0.6,0.7,0.8,0.9,1],"format":".0%","title":"Disease/Progression-free Survival"}},"color":{"field":"g","type":"nominal","scale":{"domain":["A","U"],"range":["#ff0000","#0000ff"]},"legend":null}},
"layer":[{"mark":{"type":"line","interpolate":"step-after","strokeWidth":1,"strokeOpacity":0.45},"encoding":{}},{"transform":[{"filter":"datum.c == 1"}],"mark":{"type":"point","shape":"cross","filled":true,"size":7,"opacity":1}}]},
{"width":146,"height":111,"data":{"name":"a3"},"title":{"text":"COL3A1","subtitle":"Logrank Test P-Value:0.0748"},
"encoding":{"x":{"field":"t","type":"quantitative","scale":{"domain":[0,165],"nice":false},"axis":{"values":[0,10,20,30,40,50,60,70,80,90,100,110,120,130,140,150,160],"title":"Months"}},"y":{"field":"s","type":"quantitative","scale":{"domain":[0,1],"nice":false},"axis":{"values":[0,0.1,0.2,0.3,0.4,0.5,0.6,0.7,0.8,0.9,1],"format":".0%","title":"Disease/Progression-free Survival"}},"color":{"field":"g","type":"nominal","scale":{"domain":["A","U"],"range":["#ff0000","#0000ff"]},"legend":null}},
"layer":[{"mark":{"type":"line","interpolate":"step-after","strokeWidth":1,"strokeOpacity":0.45},"encoding":{}},{"transform":[{"filter":"datum.c == 1"}],"mark":{"type":"point","shape":"cross","filled":true,"size":7,"opacity":1}}]},
{"width":142,"height":111,"data":{"name":"a4"},"title":{"text":"COL5A1","subtitle":"Logrank Test P-Value:0.0119"},
"encoding":{"x":{"field":"t","type":"quantitative","scale":{"domain":[0,165],"nice":false},"axis":{"values":[0,10,20,30,40,50,60,70,80,90,100,110,120,130,140,150,160],"title":"Months"}},"y":{"field":"s","type":"quantitative","scale":{"domain":[0,1],"nice":false},"axis":{"values":[0,0.1,0.2,0.3,0.4,0.5,0.6,0.7,0.8,0.9,1],"format":".0%","title":"Disease/Progression-free Survival"}},"color":{"field":"g","type":"nominal","scale":{"domain":["A","U"],"range":["#ff0000","#0000ff"]},"legend":null}},
"layer":[{"mark":{"type":"line","interpolate":"step-after","strokeWidth":1,"strokeOpacity":0.45},"encoding":{}},{"transform":[{"filter":"datum.c == 1"}],"mark":{"type":"point","shape":"cross","filled":true,"size":7,"opacity":1}}]}
]},
{"resolve":{"scale":{"color":"independent"}},"spacing":0,"hconcat":[
{"width":146,"height":111,"data":{"name":"a5"},"title":{"text":"COL5A2","subtitle":"Logrank Test P-Value:0.0187"},
"encoding":{"x":{"field":"t","type":"quantitative","scale":{"domain":[0,165],"nice":false},"axis":{"values":[0,10,20,30,40,50,60,70,80,90,100,110,120,130,140,150,160],"title":"Months"}},"y":{"field":"s","type":"quantitative","scale":{"domain":[0,1],"nice":false},"axis":{"values":[0,0.1,0.2,0.3,0.4,0.5,0.6,0.7,0.8,0.9,1],"format":".0%","title":"Disease/Progression-free Survival"}},"color":{"field":"g","type":"nominal","scale":{"domain":["A","U"],"range":["#ff0000","#0000ff"]},"legend":null}},
"layer":[{"mark":{"type":"line","interpolate":"step-after","strokeWidth":1,"strokeOpacity":0.45},"encoding":{}},{"transform":[{"filter":"datum.c == 1"}],"mark":{"type":"point","shape":"cross","filled":true,"size":7,"opacity":1}}]},
{"width":146,"height":111,"data":{"name":"a6"},"title":{"text":"LUM","subtitle":"Logrank Test P-Value:0.0624"},
"encoding":{"x":{"field":"t","type":"quantitative","scale":{"domain":[0,165],"nice":false},"axis":{"values":[0,10,20,30,40,50,60,70,80,90,100,110,120,130,140,150,160],"title":"Months"}},"y":{"field":"s","type":"quantitative","scale":{"domain":[0,1],"nice":false},"axis":{"values":[0,0.1,0.2,0.3,0.4,0.5,0.6,0.7,0.8,0.9,1],"format":".0%","title":"Disease/Progression-free Survival"}},"color":{"field":"g","type":"nominal","scale":{"domain":["A","U"],"range":["#ff0000","#0000ff"]},"legend":null}},
"layer":[{"mark":{"type":"line","interpolate":"step-after","strokeWidth":1,"strokeOpacity":0.45},"encoding":{}},{"transform":[{"filter":"datum.c == 1"}],"mark":{"type":"point","shape":"cross","filled":true,"size":7,"opacity":1}}]},
{"width":146,"height":111,"data":{"name":"a7"},"title":{"text":"SULF1","subtitle":"Logrank Test P-Value:0.0892"},
"encoding":{"x":{"field":"t","type":"quantitative","scale":{"domain":[0,165],"nice":false},"axis":{"values":[0,10,20,30,40,50,60,70,80,90,100,110,120,130,140,150,160],"title":"Months"}},"y":{"field":"s","type":"quantitative","scale":{"domain":[0,1],"nice":false},"axis":{"values":[0,0.1,0.2,0.3,0.4,0.5,0.6,0.7,0.8,0.9,1],"format":".0%","title":"Disease/Progression-free Survival"}},"color":{"field":"g","type":"nominal","scale":{"domain":["A","U"],"range":["#ff0000","#0000ff"]},"legend":null}},
"layer":[{"mark":{"type":"line","interpolate":"step-after","strokeWidth":1,"strokeOpacity":0.45},"encoding":{}},{"transform":[{"filter":"datum.c == 1"}],"mark":{"type":"point","shape":"cross","filled":true,"size":7,"opacity":1}}]},
{"width":142,"height":111,"data":{"name":"a8"},"title":{"text":"TIMP2","subtitle":"Logrank Test P-Value:0.0717"},
"encoding":{"x":{"field":"t","type":"quantitative","scale":{"domain":[0,165],"nice":false},"axis":{"values":[0,10,20,30,40,50,60,70,80,90,100,110,120,130,140,150,160],"title":"Months"}},"y":{"field":"s","type":"quantitative","scale":{"domain":[0,1],"nice":false},"axis":{"values":[0,0.1,0.2,0.3,0.4,0.5,0.6,0.7,0.8,0.9,1],"format":".0%","title":"Disease/Progression-free Survival"}},"color":{"field":"g","type":"nominal","scale":{"domain":["A","U"],"range":["#ff0000","#0000ff"]},"legend":null}},
"layer":[{"mark":{"type":"line","interpolate":"step-after","strokeWidth":1,"strokeOpacity":0.45},"encoding":{}},{"transform":[{"filter":"datum.c == 1"}],"mark":{"type":"point","shape":"cross","filled":true,"size":7,"opacity":1}}]}
]},
{"resolve":{"scale":{"color":"independent"}},"spacing":0,"hconcat":[
{"width":146,"height":111,"data":{"name":"a9"},"title":{"text":"TPX2","subtitle":"Logrank Test P-Value:0.0860"},
"encoding":{"x":{"field":"t","type":"quantitative","scale":{"domain":[0,165],"nice":false},"axis":{"values":[0,10,20,30,40,50,60,70,80,90,100,110,120,130,140,150,160],"title":"Months"}},"y":{"field":"s","type":"quantitative","scale":{"domain":[0,1],"nice":false},"axis":{"values":[0,0.1,0.2,0.3,0.4,0.5,0.6,0.7,0.8,0.9,1],"format":".0%","title":"Disease/Progression-free Survival"}},"color":{"field":"g","type":"nominal","scale":{"domain":["A","U"],"range":["#ff0000","#0000ff"]},"legend":null}},
"layer":[{"mark":{"type":"line","interpolate":"step-after","strokeWidth":1,"strokeOpacity":0.45},"encoding":{}},{"transform":[{"filter":"datum.c == 1"}],"mark":{"type":"point","shape":"cross","filled":true,"size":7,"opacity":1}}]},
{"width":146,"height":111,"data":{"name":"a10"},"title":{"text":"VCAN","subtitle":"Logrank Test P-Value:0.0652"},
"encoding":{"x":{"field":"t","type":"quantitative","scale":{"domain":[0,165],"nice":false},"axis":{"values":[0,10,20,30,40,50,60,70,80,90,100,110,120,130,140,150,160],"title":"Months"}},"y":{"field":"s","type":"quantitative","scale":{"domain":[0,1],"nice":false},"axis":{"values":[0,0.1,0.2,0.3,0.4,0.5,0.6,0.7,0.8,0.9,1],"format":".0%","title":"Disease/Progression-free Survival"}},"color":{"field":"g","type":"nominal","scale":{"domain":["A","U"],"range":["#ff0000","#0000ff"]},"legend":{"title":"Disease/Progression-free Kaplan-Meier Estimate","orient":"none","legendX":191,"legendY":40,"symbolType":"square","symbolSize":70,"symbolStrokeWidth":0,"symbolOpacity":1,"titleFontSize":10.5,"titleFontWeight":"bold","titleColor":"#444","labelFontSize":10.5,"labelColor":"#444","titlePadding":8,"rowPadding":5,"labelOffset":10,"titleLimit":400,"labelExpr":"datum.label == 'A' ? 'Altered group' : 'Unaltered group'"}}},
"layer":[{"mark":{"type":"line","interpolate":"step-after","strokeWidth":1,"strokeOpacity":0.45},"encoding":{}},{"transform":[{"filter":"datum.c == 1"}],"mark":{"type":"point","shape":"cross","filled":true,"size":7,"opacity":1}}]}
]}
]},
{"title":{"text":"B","anchor":"start","fontSize":15,"offset":-4,"color":"#000"},
"resolve":{"scale":{"color":"independent"}},
"spacing":14,
"vconcat":[
{"resolve":{"scale":{"color":"independent"}},"spacing":0,"hconcat":[
{"width":146,"height":113,"data":{"name":"b1"},"title":{"text":"COL1A1","subtitle":"Logrank Test P-Value:0.0396"},
"encoding":{"x":{"field":"t","type":"quantitative","scale":{"domain":[0,165],"nice":false},"axis":{"values":[0,10,20,30,40,50,60,70,80,90,100,110,120,130,140,150,160],"title":"Months"}},"y":{"field":"s","type":"quantitative","scale":{"domain":[0,1],"nice":false},"axis":{"values":[0,0.1,0.2,0.3,0.4,0.5,0.6,0.7,0.8,0.9,1],"format":".0%","title":"Overall Survival"}},"color":{"field":"g","type":"nominal","scale":{"domain":["A","U"],"range":["#ff0000","#0000ff"]},"legend":null}},
"layer":[{"mark":{"type":"line","interpolate":"step-after","strokeWidth":1,"strokeOpacity":0.45},"encoding":{}},{"transform":[{"filter":"datum.c == 1"}],"mark":{"type":"point","shape":"cross","filled":true,"size":7,"opacity":1}}]},
{"width":146,"height":113,"data":{"name":"b2"},"title":{"text":"COL1A2","subtitle":"Logrank Test P-Value:0.0864"},
"encoding":{"x":{"field":"t","type":"quantitative","scale":{"domain":[0,165],"nice":false},"axis":{"values":[0,10,20,30,40,50,60,70,80,90,100,110,120,130,140,150,160],"title":"Months"}},"y":{"field":"s","type":"quantitative","scale":{"domain":[0,1],"nice":false},"axis":{"values":[0,0.1,0.2,0.3,0.4,0.5,0.6,0.7,0.8,0.9,1],"format":".0%","title":"Overall Survival"}},"color":{"field":"g","type":"nominal","scale":{"domain":["A","U"],"range":["#ff0000","#0000ff"]},"legend":null}},
"layer":[{"mark":{"type":"line","interpolate":"step-after","strokeWidth":1,"strokeOpacity":0.45},"encoding":{}},{"transform":[{"filter":"datum.c == 1"}],"mark":{"type":"point","shape":"cross","filled":true,"size":7,"opacity":1}}]},
{"width":146,"height":113,"data":{"name":"b3"},"title":{"text":"COL3A1","subtitle":"Logrank Test P-Value:0.0881"},
"encoding":{"x":{"field":"t","type":"quantitative","scale":{"domain":[0,165],"nice":false},"axis":{"values":[0,10,20,30,40,50,60,70,80,90,100,110,120,130,140,150,160],"title":"Months"}},"y":{"field":"s","type":"quantitative","scale":{"domain":[0,1],"nice":false},"axis":{"values":[0,0.1,0.2,0.3,0.4,0.5,0.6,0.7,0.8,0.9,1],"format":".0%","title":"Overall Survival"}},"color":{"field":"g","type":"nominal","scale":{"domain":["A","U"],"range":["#ff0000","#0000ff"]},"legend":null}},
"layer":[{"mark":{"type":"line","interpolate":"step-after","strokeWidth":1,"strokeOpacity":0.45},"encoding":{}},{"transform":[{"filter":"datum.c == 1"}],"mark":{"type":"point","shape":"cross","filled":true,"size":7,"opacity":1}}]},
{"width":142,"height":113,"data":{"name":"b4"},"title":{"text":"COL5A1","subtitle":"Logrank Test P-Value:0.0535"},
"encoding":{"x":{"field":"t","type":"quantitative","scale":{"domain":[0,165],"nice":false},"axis":{"values":[0,10,20,30,40,50,60,70,80,90,100,110,120,130,140,150,160],"title":"Months"}},"y":{"field":"s","type":"quantitative","scale":{"domain":[0,1],"nice":false},"axis":{"values":[0,0.1,0.2,0.3,0.4,0.5,0.6,0.7,0.8,0.9,1],"format":".0%","title":"Overall Survival"}},"color":{"field":"g","type":"nominal","scale":{"domain":["A","U"],"range":["#ff0000","#0000ff"]},"legend":null}},
"layer":[{"mark":{"type":"line","interpolate":"step-after","strokeWidth":1,"strokeOpacity":0.45},"encoding":{}},{"transform":[{"filter":"datum.c == 1"}],"mark":{"type":"point","shape":"cross","filled":true,"size":7,"opacity":1}}]}
]},
{"resolve":{"scale":{"color":"independent"}},"spacing":0,"hconcat":[
{"width":146,"height":113,"data":{"name":"b5"},"title":{"text":"COL5A2","subtitle":"Logrank Test P-Value:0.135"},
"encoding":{"x":{"field":"t","type":"quantitative","scale":{"domain":[0,165],"nice":false},"axis":{"values":[0,10,20,30,40,50,60,70,80,90,100,110,120,130,140,150,160],"title":"Months"}},"y":{"field":"s","type":"quantitative","scale":{"domain":[0,1],"nice":false},"axis":{"values":[0,0.1,0.2,0.3,0.4,0.5,0.6,0.7,0.8,0.9,1],"format":".0%","title":"Overall Survival"}},"color":{"field":"g","type":"nominal","scale":{"domain":["A","U"],"range":["#ff0000","#0000ff"]},"legend":null}},
"layer":[{"mark":{"type":"line","interpolate":"step-after","strokeWidth":1,"strokeOpacity":0.45},"encoding":{}},{"transform":[{"filter":"datum.c == 1"}],"mark":{"type":"point","shape":"cross","filled":true,"size":7,"opacity":1}}]},
{"width":146,"height":113,"data":{"name":"b6"},"title":{"text":"LUM","subtitle":"Logrank Test P-Value:0.0113"},
"encoding":{"x":{"field":"t","type":"quantitative","scale":{"domain":[0,165],"nice":false},"axis":{"values":[0,10,20,30,40,50,60,70,80,90,100,110,120,130,140,150,160],"title":"Months"}},"y":{"field":"s","type":"quantitative","scale":{"domain":[0,1],"nice":false},"axis":{"values":[0,0.1,0.2,0.3,0.4,0.5,0.6,0.7,0.8,0.9,1],"format":".0%","title":"Overall Survival"}},"color":{"field":"g","type":"nominal","scale":{"domain":["A","U"],"range":["#ff0000","#0000ff"]},"legend":null}},
"layer":[{"mark":{"type":"line","interpolate":"step-after","strokeWidth":1,"strokeOpacity":0.45},"encoding":{}},{"transform":[{"filter":"datum.c == 1"}],"mark":{"type":"point","shape":"cross","filled":true,"size":7,"opacity":1}}]},
{"width":146,"height":113,"data":{"name":"b7"},"title":{"text":"SULF1","subtitle":"Logrank Test P-Value:0.427"},
"encoding":{"x":{"field":"t","type":"quantitative","scale":{"domain":[0,165],"nice":false},"axis":{"values":[0,10,20,30,40,50,60,70,80,90,100,110,120,130,140,150,160],"title":"Months"}},"y":{"field":"s","type":"quantitative","scale":{"domain":[0,1],"nice":false},"axis":{"values":[0,0.1,0.2,0.3,0.4,0.5,0.6,0.7,0.8,0.9,1],"format":".0%","title":"Overall Survival"}},"color":{"field":"g","type":"nominal","scale":{"domain":["A","U"],"range":["#ff0000","#0000ff"]},"legend":null}},
"layer":[{"mark":{"type":"line","interpolate":"step-after","strokeWidth":1,"strokeOpacity":0.45},"encoding":{}},{"transform":[{"filter":"datum.c == 1"}],"mark":{"type":"point","shape":"cross","filled":true,"size":7,"opacity":1}}]},
{"width":142,"height":113,"data":{"name":"b8"},"title":{"text":"TIMP2","subtitle":"Logrank Test P-Value:0.421"},
"encoding":{"x":{"field":"t","type":"quantitative","scale":{"domain":[0,165],"nice":false},"axis":{"values":[0,10,20,30,40,50,60,70,80,90,100,110,120,130,140,150,160],"title":"Months"}},"y":{"field":"s","type":"quantitative","scale":{"domain":[0,1],"nice":false},"axis":{"values":[0,0.1,0.2,0.3,0.4,0.5,0.6,0.7,0.8,0.9,1],"format":".0%","title":"Overall Survival"}},"color":{"field":"g","type":"nominal","scale":{"domain":["A","U"],"range":["#ff0000","#0000ff"]},"legend":null}},
"layer":[{"mark":{"type":"line","interpolate":"step-after","strokeWidth":1,"strokeOpacity":0.45},"encoding":{}},{"transform":[{"filter":"datum.c == 1"}],"mark":{"type":"point","shape":"cross","filled":true,"size":7,"opacity":1}}]}
]},
{"resolve":{"scale":{"color":"independent"}},"spacing":0,"hconcat":[
{"width":146,"height":113,"data":{"name":"b9"},"title":{"text":"TPX2","subtitle":"Logrank Test P-Value:0.811"},
"encoding":{"x":{"field":"t","type":"quantitative","scale":{"domain":[0,165],"nice":false},"axis":{"values":[0,10,20,30,40,50,60,70,80,90,100,110,120,130,140,150,160],"title":"Months"}},"y":{"field":"s","type":"quantitative","scale":{"domain":[0,1],"nice":false},"axis":{"values":[0,0.1,0.2,0.3,0.4,0.5,0.6,0.7,0.8,0.9,1],"format":".0%","title":"Overall Survival"}},"color":{"field":"g","type":"nominal","scale":{"domain":["A","U"],"range":["#ff0000","#0000ff"]},"legend":null}},
"layer":[{"mark":{"type":"line","interpolate":"step-after","strokeWidth":1,"strokeOpacity":0.45},"encoding":{}},{"transform":[{"filter":"datum.c == 1"}],"mark":{"type":"point","shape":"cross","filled":true,"size":7,"opacity":1}}]},
{"width":146,"height":113,"data":{"name":"b10"},"title":{"text":"VCAN","subtitle":"Logrank Test P-Value:0.329"},
"encoding":{"x":{"field":"t","type":"quantitative","scale":{"domain":[0,165],"nice":false},"axis":{"values":[0,10,20,30,40,50,60,70,80,90,100,110,120,130,140,150,160],"title":"Months"}},"y":{"field":"s","type":"quantitative","scale":{"domain":[0,1],"nice":false},"axis":{"values":[0,0.1,0.2,0.3,0.4,0.5,0.6,0.7,0.8,0.9,1],"format":".0%","title":"Overall Survival"}},"color":{"field":"g","type":"nominal","scale":{"domain":["A","U"],"range":["#ff0000","#0000ff"]},"legend":{"title":"Overall Survival Kaplan-Meier Estimate","orient":"none","legendX":191,"legendY":39,"symbolType":"square","symbolSize":70,"symbolStrokeWidth":0,"symbolOpacity":1,"titleFontSize":10.5,"titleFontWeight":"bold","titleColor":"#444","labelFontSize":10.5,"labelColor":"#444","titlePadding":8,"rowPadding":5,"labelOffset":10,"titleLimit":400,"labelExpr":"datum.label == 'A' ? 'Altered group' : 'Unaltered group'"}}},
"layer":[{"mark":{"type":"line","interpolate":"step-after","strokeWidth":1,"strokeOpacity":0.45},"encoding":{}},{"transform":[{"filter":"datum.c == 1"}],"mark":{"type":"point","shape":"cross","filled":true,"size":7,"opacity":1}}]}
]}
]}
]
}
